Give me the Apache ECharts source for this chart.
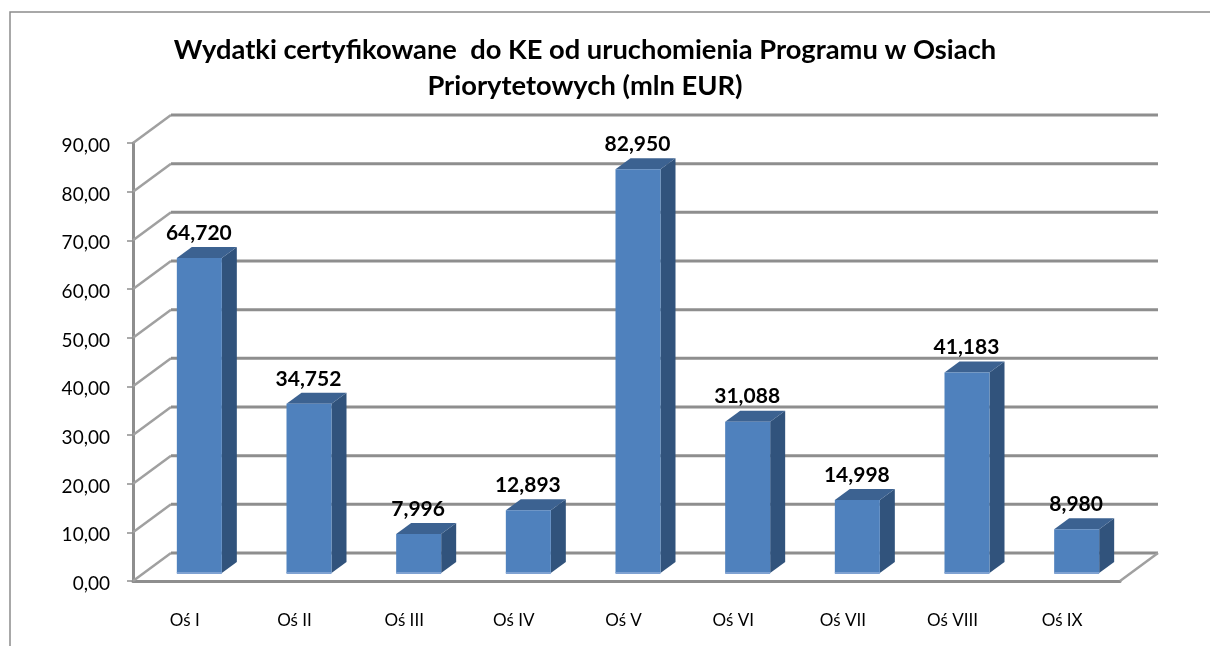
<!DOCTYPE html>
<html>
<head>
<meta charset="utf-8">
<script src="https://cdn.jsdelivr.net/npm/echarts@6/dist/echarts.min.js"></script>
<style>
html, body { margin: 0; padding: 0; background: #fff; }
#main { width: 1210px; height: 646px; }
</style>
</head>
<body>
<div id="main"></div>
<script>
var categories = ['Oś I', 'Oś II', 'Oś III', 'Oś IV', 'Oś V', 'Oś VI', 'Oś VII', 'Oś VIII', 'Oś IX'];
var wydatki = [64.720, 34.752, 7.996, 12.893, 82.950, 31.088, 14.998, 41.183, 8.980];
var ticks = [0, 10, 20, 30, 40, 50, 60, 70, 80, 90];
var titleText = 'Wydatki certyfikowane  do KE od uruchomienia Programu w Osiach\nPriorytetowych (mln EUR)';

var fontName = 'Lato';

// glebokosc "3D" sciany i slupka
var wallDx = 38, wallDy = 28;
var barOffX = 11.5, barOffY = 8;
var barDepthX = 15, barDepthY = 11;
var barWidth = 45;

var myChart = echarts.init(document.getElementById('main'));

function renderWall(params, api) {
	var v = api.value(0);
	var grid = params.coordSys;
	var y = api.coord([0, v])[1];
	var children = [{
		type: 'line',
		shape: { x1: grid.x, y1: y, x2: grid.x + wallDx, y2: y - wallDy },
		style: { stroke: '#a0a0a0', lineWidth: 2.5 }
	}, {
		type: 'line',
		shape: { x1: grid.x + wallDx, y1: y - wallDy, x2: grid.x + grid.width + wallDx, y2: y - wallDy },
		style: { stroke: '#8e8e8e', lineWidth: 3 }
	}];
	// prawa krawedz podlogi
	if (v === 0) {
		children.push({
			type: 'line',
			shape: { x1: grid.x + grid.width, y1: y, x2: grid.x + grid.width + wallDx, y2: y - wallDy },
			style: { stroke: '#a0a0a0', lineWidth: 2.5 }
		});
	}
	return { type: 'group', children: children };
}

function renderBar(params, api) {
	var idx = api.value(0);
	var val = api.value(1);
	var top = api.coord([idx, val]);
	var base = api.coord([idx, 0]);
	var x0 = top[0] + barOffX - barWidth / 2;
	var x1 = x0 + barWidth;
	var yt = top[1] - barOffY;
	var yb = base[1] - barOffY;
	return {
		type: 'group',
		children: [{
			type: 'polygon',
			shape: { points: [[x1, yt], [x1 + barDepthX, yt - barDepthY], [x1 + barDepthX, yb - barDepthY], [x1, yb]] },
			style: { fill: '#31537c' }
		}, {
			type: 'polygon',
			shape: { points: [[x0, yt], [x0 + barDepthX, yt - barDepthY], [x1 + barDepthX, yt - barDepthY], [x1, yt]] },
			style: { fill: '#3c6291' }
		}, {
			type: 'rect',
			shape: { x: x0, y: yt, width: barWidth, height: yb - yt },
			style: { fill: '#4f81bd' }
		}, {
			type: 'rect',
			shape: { x: x0, y: yb - 1, width: barWidth, height: 2 },
			style: { fill: '#7fa2d2' }
		}, {
			type: 'text',
			style: {
				x: x0 + barWidth / 2 - 0.5,
				y: yt - 25,
				text: val.toFixed(3).replace('.', ','),
				fill: '#000',
				font: 'bold 21px ' + fontName,
				align: 'center',
				verticalAlign: 'middle'
			}
		}]
	};
}

var option = {
	animation: false,
	backgroundColor: '#fff',
	title: {
		text: titleText,
		left: 580,
		top: 27,
		textAlign: 'center',
		textStyle: { fontFamily: fontName, fontWeight: 'bold', fontSize: 27.3, lineHeight: 36, color: '#000' }
	},
	graphic: [{
		type: 'polyline',
		shape: { points: [[10, 646], [10, 12], [1210, 12]] },
		style: { stroke: '#8c8c8c', lineWidth: 1.5, fill: null }
	}],
	grid: { left: 133, top: 143, width: 987, height: 438 },
	xAxis: {
		type: 'category',
		data: categories,
		axisLine: { lineStyle: { color: '#8e8e8e', width: 3 } },
		axisTick: { length: 7, lineStyle: { color: '#8e8e8e', width: 1.5 } },
		axisLabel: { color: '#000', fontFamily: fontName, fontSize: 17, margin: 31, padding: [0, 6, 0, 0] },
		splitLine: { show: false }
	},
	yAxis: {
		type: 'value',
		min: 0,
		max: 90,
		interval: 10,
		axisLine: { show: true, lineStyle: { color: '#8e8e8e', width: 3 } },
		axisTick: { show: true, length: 6, lineStyle: { color: '#8e8e8e', width: 1.5 } },
		axisLabel: {
			color: '#000',
			fontFamily: fontName,
			fontSize: 19,
			margin: 23,
			verticalAlign: 'top',
			lineHeight: 6,
			formatter: function(v) { return v.toFixed(2).replace('.', ','); }
		},
		splitLine: { show: false }
	},
	series: [{
		type: 'custom',
		coordinateSystem: 'cartesian2d',
		data: ticks.map(function(t) { return [t]; }),
		encode: { y: 0 },
		renderItem: renderWall,
		silent: true,
		z: 1
	}, {
		type: 'custom',
		coordinateSystem: 'cartesian2d',
		data: wydatki.map(function(v, i) { return [i, v]; }),
		encode: { x: 0, y: 1 },
		renderItem: renderBar,
		z: 5
	}]
};

myChart.setOption(option);
</script>
</body>
</html>
